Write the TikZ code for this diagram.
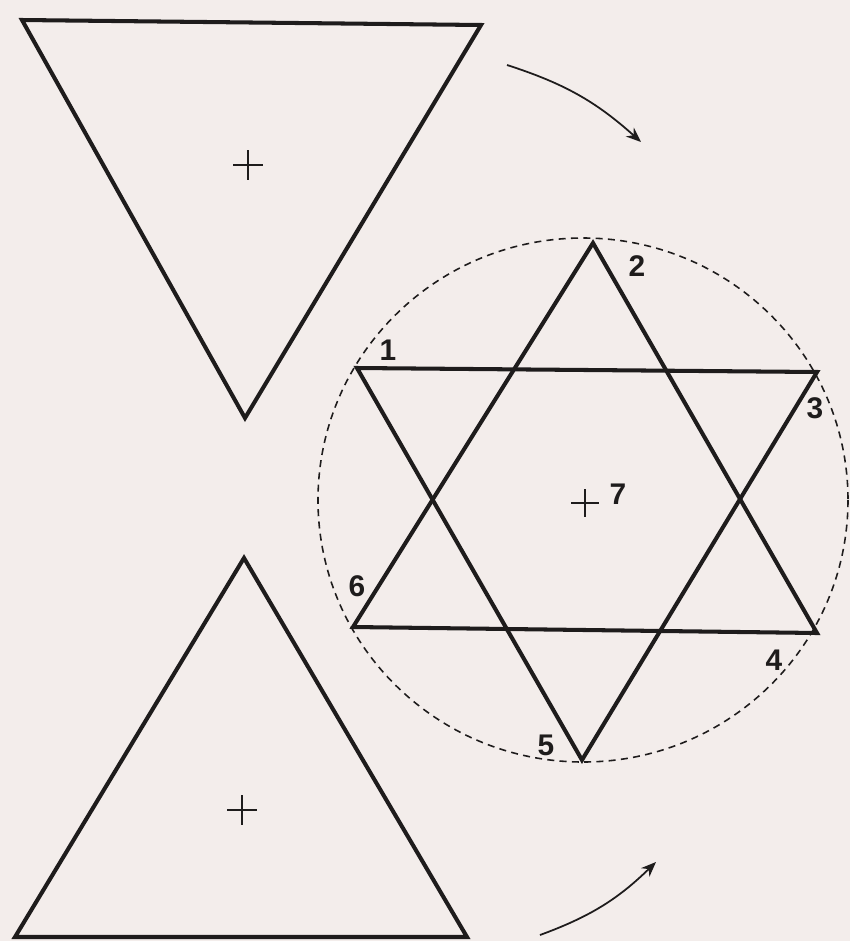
\documentclass[tikz,border=0pt]{standalone}
\usepackage{fontspec}
\setsansfont{Liberation Sans}
\usetikzlibrary{arrows.meta}

\definecolor{paper}{RGB}{243,237,235}
\definecolor{ink}{RGB}{30,28,28}

\begin{document}
\begin{tikzpicture}[
  x=0.02cm, y=-0.02cm,
  tri/.style={ink, line width=2.3pt, line join=miter},
  cross/.style={ink, line width=0.9pt},
  ring/.style={ink, line width=0.9pt, dash pattern=on 4pt off 3pt},
  turn/.style={ink, line width=1pt, -{Stealth[length=3mm, width=2.4mm]}},
  num/.style={font=\sffamily\bfseries\fontsize{17}{17}\selectfont, text=ink, inner sep=0pt},
]
\fill[paper] (0,0) rectangle (850,941);
\useasboundingbox (0,0) rectangle (850,941);

% === INVERTED TRIANGLE (top left) ===
\coordinate (dA) at (22,20);
\coordinate (dB) at (481,25);
\coordinate (dC) at (245,418);
\draw[tri] (dA) -- (dB) -- (dC) -- cycle;
\draw[cross] (233,165) -- (263,165) (248,150) -- (248,180);

% === UPRIGHT TRIANGLE (bottom left) ===
\coordinate (uA) at (244,558);
\coordinate (uB) at (467,937);
\coordinate (uC) at (15,937);
\draw[tri] (uA) -- (uB) -- (uC) -- cycle;
\draw[cross] (227,810) -- (257,810) (242,795) -- (242,825);

% === HEXAGRAM IN CIRCLE (right) ===
\coordinate (c7) at (583,500);
\draw[ring] (c7) ellipse[x radius=265, y radius=262];

\coordinate (v2) at (593,243);
\coordinate (v4) at (817,633);
\coordinate (v6) at (353,627);
\coordinate (v1) at (357,368);
\coordinate (v3) at (817,372);
\coordinate (v5) at (582,760);
\draw[tri] (v2) -- (v4) -- (v6) -- cycle;
\draw[tri] (v1) -- (v3) -- (v5) -- cycle;
\draw[cross] (571,503) -- (599,503) (585,489) -- (585,517);

\node[num] (n1) at (388,350) {1};
\node[num] (n2) at (637,266) {2};
\node[num] (n3) at (815,408) {3};
\node[num] (n4) at (774,660) {4};
\node[num] (n5) at (546,745) {5};
\node[num] (n6) at (357,586) {6};
\node[num] (n7) at (618,494) {7};

% rotation arrows
\coordinate (r1s) at (507,65);
\coordinate (r1e) at (641,142);
\draw[turn] (r1s) to[bend left=12] (r1e);
\coordinate (r2s) at (540,935);
\coordinate (r2e) at (656,862);
\draw[turn] (r2s) to[bend right=12] (r2e);
\end{tikzpicture}
\end{document}
